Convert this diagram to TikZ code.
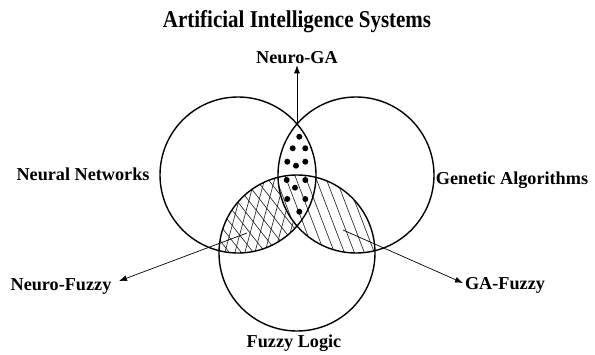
\documentclass[tikz,border=0pt]{standalone}
\usepackage{fontspec}
\setmainfont{Liberation Serif}
\usetikzlibrary{arrows.meta}
\begin{document}
\begin{tikzpicture}[x=1pt,y=-1pt,
  setring/.style={circle,draw,line width=1.4pt,minimum size=156pt,inner sep=0pt},
  hatch/.style={line width=0.65pt,black!85},
  lbl/.style={font=\bfseries\fontsize{18.2}{21}\selectfont,inner sep=1pt},
  pointer/.style={line width=0.7pt,-{Latex[length=8pt,width=6pt]}},
  seed/.style={fill=black}]
\useasboundingbox (0,0) rectangle (595,354);

% hatching of the overlaps with Fuzzy Logic
\begin{scope}
  \clip (238,175) circle (78);
  \clip (297,253) circle (78);
  \foreach \k in {-20,...,20} {
    \draw[hatch] (255+\k*10-31,330) -- (255+\k*10+31,100);
    \draw[hatch] (260+\k*12-90,100) -- (260+\k*12+90,330);
  }
\end{scope}
\begin{scope}
  \clip (356,175) circle (78);
  \clip (297,253) circle (78);
  \fill[white] (200,100) rectangle (440,340);
  \foreach \k in {-20,...,20} {
    \draw[hatch] (330+\k*10-44,100) -- (330+\k*10+44,330);
  }
\end{scope}

% dots in the Neuro-GA overlap
\foreach \p in {(299.3,136.7),(292.7,148.3),(305.3,148.3),(287.3,161.7),
                (296,165.7),(305.3,161.7),(286.7,180),(305.3,180),
                (295,187.7),(287.3,199),(305.3,199),(299.3,211.7)}
  \fill[seed] \p circle (3);

% the three sets
\node[setring] (nn) at (238,175) {};
\node[setring] (ga) at (356,175) {};
\node[setring] (fl) at (297,253) {};

% labels
\node (title) at (297,22) {\scalebox{1}[1.15]{\bfseries\fontsize{21}{24}\selectfont Artificial Intelligence Systems}};
\node[lbl] (ngl) at (297,58) {Neuro-GA};
\node[lbl] (nnl) at (83,174) {Neural Networks};
\node[lbl] (gal) at (512,180) {Genetic Algorithms};
\node[lbl] (nfl) at (61,287) {Neuro-Fuzzy};
\node[lbl] (gfl) at (505,285) {GA-Fuzzy};
\node[lbl] (fll) at (294,343) {Fuzzy Logic};

% pointers from the overlaps
\coordinate (ngStart) at (297,124);
\coordinate (nfStart) at (247,233);
\coordinate (nfTip) at (119,281);
\coordinate (gfStart) at (343,230);
\coordinate (gfTip) at (463,283);
\draw[pointer] (ngStart) -- (ngl.south);
\draw[pointer] (nfStart) -- (nfTip);
\draw[pointer] (gfStart) -- (gfTip);
\end{tikzpicture}
\end{document}
